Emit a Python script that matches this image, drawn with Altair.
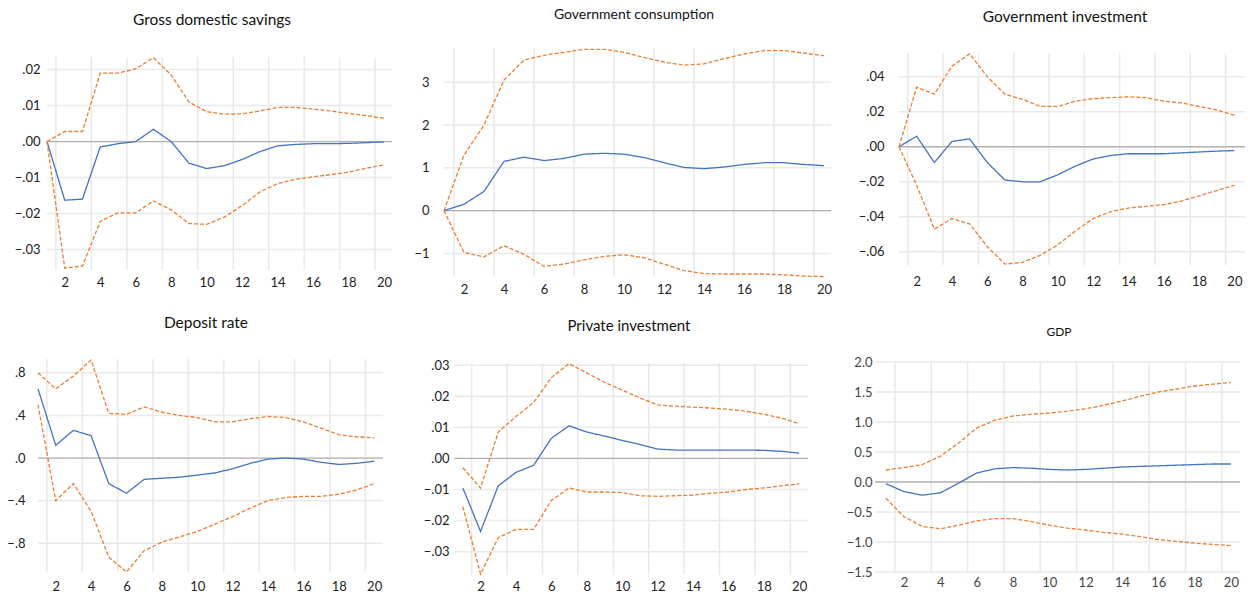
import altair as alt
import pandas as pd

# ---------------- data ----------------
periods = list(range(1, 21))
x_tick_labels = [2, 4, 6, 8, 10, 12, 14, 16, 18, 20]
x_grid_positions = [1.5, 3.5, 5.5, 7.5, 9.5, 11.5, 13.5, 15.5, 17.5, 19.5]

titles = ["Gross domestic savings", "Government consumption", "Government investment",
          "Deposit rate", "Private investment", "GDP"]

gds_resp = [0.0, -0.0163, -0.0160, -0.0015, -0.0006, 0.0000, 0.0034, 0.0000, -0.0060, -0.0075,
            -0.0067, -0.0050, -0.0028, -0.0012, -0.0008, -0.0006, -0.0006, -0.0005, -0.0003, -0.0001]
gds_upper = [0.0, 0.0028, 0.0028, 0.0190, 0.0190, 0.0202, 0.0233, 0.0185, 0.0110, 0.0083,
             0.0076, 0.0077, 0.0085, 0.0095, 0.0095, 0.0090, 0.0085, 0.0078, 0.0072, 0.0065]
gds_lower = [0.0, -0.0352, -0.0346, -0.0222, -0.0198, -0.0198, -0.0165, -0.0190, -0.0228, -0.0230,
             -0.0210, -0.0178, -0.0140, -0.0117, -0.0105, -0.0098, -0.0092, -0.0085, -0.0074, -0.0065]

gc_resp = [0.0, 0.15, 0.45, 1.15, 1.25, 1.17, 1.22, 1.32, 1.34, 1.32,
           1.24, 1.12, 1.01, 0.98, 1.02, 1.08, 1.12, 1.12, 1.08, 1.05]
gc_upper = [0.0, 1.30, 2.00, 3.05, 3.52, 3.63, 3.70, 3.77, 3.77, 3.70,
            3.58, 3.47, 3.40, 3.43, 3.55, 3.66, 3.74, 3.74, 3.68, 3.62]
gc_lower = [0.0, -0.98, -1.08, -0.82, -1.02, -1.30, -1.25, -1.15, -1.07, -1.03,
            -1.10, -1.25, -1.40, -1.47, -1.48, -1.48, -1.48, -1.50, -1.53, -1.54]

gi_resp = [0.0, 0.006, -0.009, 0.003, 0.0045, -0.009, -0.019, -0.020, -0.020, -0.016,
           -0.011, -0.007, -0.005, -0.004, -0.004, -0.004, -0.0035, -0.003, -0.0025, -0.0022]
gi_upper = [0.0, 0.034, 0.030, 0.046, 0.053, 0.040, 0.030, 0.027, 0.023, 0.023,
            0.026, 0.0275, 0.028, 0.0285, 0.028, 0.026, 0.025, 0.023, 0.021, 0.018]
gi_lower = [0.0, -0.022, -0.047, -0.041, -0.044, -0.057, -0.067, -0.066, -0.062, -0.056,
            -0.048, -0.041, -0.037, -0.035, -0.034, -0.033, -0.031, -0.028, -0.025, -0.022]

dr_resp = [0.65, 0.12, 0.26, 0.21, -0.24, -0.33, -0.20, -0.19, -0.18, -0.16,
           -0.14, -0.10, -0.05, -0.01, 0.00, -0.01, -0.04, -0.06, -0.05, -0.03]
dr_upper = [0.80, 0.65, 0.77, 0.92, 0.42, 0.41, 0.48, 0.43, 0.40, 0.38,
            0.34, 0.34, 0.37, 0.39, 0.38, 0.34, 0.28, 0.22, 0.20, 0.19]
dr_lower = [0.50, -0.40, -0.24, -0.50, -0.93, -1.07, -0.87, -0.79, -0.74, -0.69,
            -0.62, -0.55, -0.47, -0.40, -0.37, -0.36, -0.36, -0.34, -0.30, -0.24]

pi_resp = [-0.0095, -0.0235, -0.0088, -0.0045, -0.0022, 0.0065, 0.0105, 0.0085, 0.0072, 0.0058,
           0.0045, 0.0030, 0.0027, 0.0027, 0.0027, 0.0027, 0.0027, 0.0026, 0.0023, 0.0017]
pi_upper = [-0.0030, -0.0095, 0.0085, 0.0135, 0.0180, 0.0260, 0.0305, 0.0275, 0.0245, 0.0220,
            0.0195, 0.0172, 0.0168, 0.0165, 0.0162, 0.0158, 0.0152, 0.0142, 0.0130, 0.0112]
pi_lower = [-0.0155, -0.0372, -0.0255, -0.0228, -0.0228, -0.0135, -0.0095, -0.0108, -0.0108, -0.0110,
            -0.0120, -0.0122, -0.0120, -0.0118, -0.0112, -0.0108, -0.0100, -0.0095, -0.0088, -0.0082]

gdp_resp = [-0.03, -0.16, -0.22, -0.18, -0.02, 0.15, 0.22, 0.24, 0.23, 0.21,
            0.20, 0.21, 0.23, 0.25, 0.26, 0.27, 0.28, 0.29, 0.30, 0.30]
gdp_upper = [0.20, 0.24, 0.29, 0.43, 0.65, 0.90, 1.03, 1.10, 1.13, 1.15,
             1.18, 1.22, 1.28, 1.35, 1.43, 1.50, 1.55, 1.60, 1.63, 1.66]
gdp_lower = [-0.27, -0.58, -0.74, -0.78, -0.72, -0.65, -0.61, -0.61, -0.66, -0.72,
             -0.77, -0.80, -0.84, -0.87, -0.91, -0.96, -0.99, -1.02, -1.04, -1.06]

gds_yticks = [-0.03, -0.02, -0.01, 0.0, 0.01, 0.02]
gc_yticks = [-1, 0, 1, 2, 3]
gi_yticks = [-0.06, -0.04, -0.02, 0.0, 0.02, 0.04]
dr_yticks = [-0.8, -0.4, 0.0, 0.4, 0.8]
pi_yticks = [-0.03, -0.02, -0.01, 0.0, 0.01, 0.02, 0.03]
gdp_yticks = [-1.5, -1.0, -0.5, 0.0, 0.5, 1.0, 1.5, 2.0]

series_data = [
    (gds_resp, gds_upper, gds_lower, gds_yticks),
    (gc_resp, gc_upper, gc_lower, gc_yticks),
    (gi_resp, gi_upper, gi_lower, gi_yticks),
    (dr_resp, dr_upper, dr_lower, dr_yticks),
    (pi_resp, pi_upper, pi_lower, pi_yticks),
    (gdp_resp, gdp_upper, gdp_lower, gdp_yticks),
]

# ---------------- layout / style ----------------
W, H = 1248, 599
FONT = "Lato"
BLUE = "#4472C4"
ORANGE = "#ED7D31"
GRID = "#e9e9e9"
ZERO = "#b3b3b3"

STRIP2 = "replace(format(datum.value, '.2f'), '0.', '.')"
STRIP1 = "replace(format(datum.value, '.1f'), '0.', '.')"

# plot rectangles (L, R, T, B) in page pixels, title centre (tx, ty)
styles = [
    dict(L=47, R=392, T=57, B=270, tx=212, ty=20, xd=[1, 20.45], yd=[-0.0357, 0.0235],
         expr=STRIP2, fmt=None, ypad=7, xpad=6, tsize=15.5, lcol="#222222"),
    dict(L=444, R=831, T=48, B=277, tx=634, ty=15, xd=[1, 20.35], yd=[-1.55, 3.8],
         expr=None, fmt=".0f", ypad=15, xpad=6, tsize=14, lcol="#222222"),
    dict(L=899, R=1245, T=53, B=265, tx=1065, ty=17, xd=[1, 20.6], yd=[-0.0675, 0.0535],
         expr=STRIP2, fmt=None, ypad=15, xpad=10, tsize=15.5, lcol="#222222"),
    dict(L=38, R=383, T=359, B=572, tx=206, ty=323, xd=[1, 20.5], yd=[-1.07, 0.93],
         expr=STRIP1, fmt=None, ypad=13, xpad=8, tsize=15.5, lcol="#222222"),
    dict(L=454, R=808, T=363, B=575, tx=629, ty=326, xd=[0.5, 20.5], yd=[-0.0375, 0.0307],
         expr=STRIP2, fmt=None, ypad=5, xpad=5, tsize=15, lcol="#222222"),
    dict(L=875, R=1240, T=362, B=572, tx=1059, ty=332, xd=[0.4, 20.5], yd=[-1.5, 2.0],
         expr=None, fmt=".1f", ypad=3, xpad=4, tsize=12, lcol="#444444"),
]


def make_panel(title, data, st):
    resp, upper, lower, yticks = data
    x0, x1 = st["xd"]
    y0, y1 = st["yd"]
    df = pd.DataFrame({
        "period": periods * 3,
        "value": resp + upper + lower,
        "series": ["resp"] * 20 + ["upper"] * 20 + ["lower"] * 20,
    })
    hgrid_df = pd.DataFrame({"v": yticks, "xa": x0, "xb": x1})
    vgrid_df = pd.DataFrame({"g": x_grid_positions, "ya": y0, "yb": y1})
    zero_df = pd.DataFrame({"v": [0.0], "xa": [x0], "xb": [x1]})
    title_df = pd.DataFrame({"t": [title]})

    xscale = alt.Scale(domain=st["xd"], range=[st["L"], st["R"]], nice=False, zero=False)
    yscale = alt.Scale(domain=st["yd"], range=[st["B"], st["T"]], nice=False, zero=False)

    xaxis = alt.Axis(orient="bottom", offset=-(H - st["B"]), values=x_tick_labels, grid=False,
                     domain=False, ticks=False, labelPadding=st["xpad"], labelFont=FONT,
                     labelFontSize=13, labelColor=st["lcol"], title=None, labelFlush=False,
                     labelAngle=0, labelOverlap=False)
    yargs = dict(orient="left", offset=-st["L"], values=yticks, grid=False, domain=False,
                 ticks=False, labelPadding=st["ypad"], labelFont=FONT, labelFontSize=13,
                 labelColor=st["lcol"], title=None, labelOverlap=False, labelFlush=False)
    if st["expr"]:
        yargs["labelExpr"] = st["expr"]
    else:
        yargs["format"] = st["fmt"]
    yaxis = alt.Axis(**yargs)

    hgrid = alt.Chart(hgrid_df).mark_rule(color=GRID, strokeWidth=1.5).encode(
        y=alt.Y("v:Q", scale=yscale, axis=yaxis),
        x=alt.X("xa:Q", scale=xscale, axis=xaxis),
        x2="xb:Q",
    )
    vgrid = alt.Chart(vgrid_df).mark_rule(color=GRID, strokeWidth=1.5).encode(
        x=alt.X("g:Q", scale=xscale, axis=xaxis),
        y=alt.Y("ya:Q", scale=yscale, axis=yaxis),
        y2="yb:Q",
    )
    zero = alt.Chart(zero_df).mark_rule(color=ZERO, strokeWidth=1.3).encode(
        y=alt.Y("v:Q", scale=yscale, axis=yaxis),
        x=alt.X("xa:Q", scale=xscale, axis=xaxis),
        x2="xb:Q",
    )
    lines = alt.Chart(df).mark_line(strokeWidth=1.3).encode(
        x=alt.X("period:Q", scale=xscale, axis=xaxis),
        y=alt.Y("value:Q", scale=yscale, axis=yaxis),
        color=alt.Color("series:N", scale=alt.Scale(domain=["resp", "upper", "lower"],
                                                      range=[BLUE, ORANGE, ORANGE]), legend=None),
        strokeDash=alt.StrokeDash("series:N", scale=alt.Scale(domain=["resp", "upper", "lower"],
                                                               range=[[1, 0], [4, 2], [4, 2]]),
                                  legend=None),
        detail="series:N",
    )
    ttl = alt.Chart(title_df).mark_text(font=FONT, fontSize=st["tsize"], color="#111111",
                                        align="center", baseline="middle").encode(
        text="t:N", x=alt.value(st["tx"]), y=alt.value(st["ty"])
    )
    return alt.layer(hgrid, vgrid, zero, lines, ttl)


panels = [make_panel(titles[i], series_data[i], styles[i]) for i in range(6)]

chart = alt.layer(*panels).resolve_scale(x="independent", y="independent").properties(
    width=W, height=H,
    autosize=alt.AutoSizeParams(type="none"),
    padding=0,
    background="white",
).configure_view(stroke=None)

chart.save("out.html", embed_options={"renderer": "svg", "actions": False})
